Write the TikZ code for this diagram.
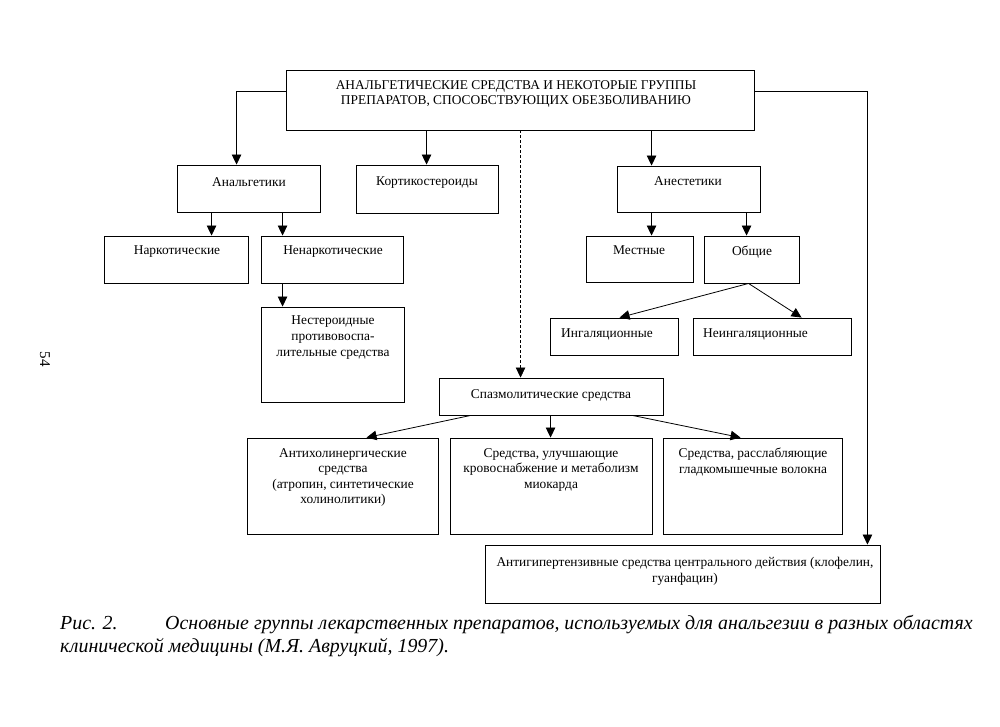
\documentclass[tikz,border=0pt]{standalone}
\usepackage{fontspec}
\setmainfont{Liberation Serif}
\newfontfamily\capfont{Liberation Serif}
\usetikzlibrary{arrows.meta,fit}
\begin{document}
\begin{tikzpicture}[x=1pt,y=-1pt,
  box/.style={draw, line width=0.9pt, inner sep=0pt, fit={#1}},
  txt/.style={inner sep=0pt, align=center, font=\fontsize{13.4}{15.6}\selectfont},
  arr/.style={-{Triangle[width=9.5pt,length=10pt]}, line width=0.8pt},
  dotline/.style={line width=0.6pt, dash pattern=on 3pt off 2pt, -{Triangle[width=9.5pt,length=10pt]}},
  captext/.style={inner sep=0pt, anchor=base west, font=\capfont\itshape\fontsize{19.9}{23}\selectfont}]
\fill[white] (0,0) rectangle (1000,726);
\useasboundingbox (0,0) rectangle (1000,726);

% boxes
\node[box={(286,70) (754,130)}] (top) {};
\node[box={(177,165) (320,212)}] (anal) {};
\node[box={(356,165) (498,213)}] (kort) {};
\node[box={(617,166) (760,212)}] (anest) {};
\node[box={(104,236) (248,283)}] (nark) {};
\node[box={(261,236) (403,283)}] (nenark) {};
\node[box={(586,236) (693,282)}] (mest) {};
\node[box={(704,236) (799,283)}] (obsh) {};
\node[box={(261,307) (404,402)}] (nester) {};
\node[box={(550,318) (678,355)}] (ingal) {};
\node[box={(693,318) (851,355)}] (neingal) {};
\node[box={(439,378) (663,415)}] (spasm) {};
\node[box={(247,438) (438,534)}] (anticho) {};
\node[box={(450,438) (652,534)}] (uluch) {};
\node[box={(663,438) (842,534)}] (rassl) {};
\node[box={(485,545) (880,603)}] (antigip) {};

% texts
\node[txt, anchor=north] (ttop) at (516,80) {АНАЛЬГЕТИЧЕСКИЕ СРЕДСТВА И НЕКОТОРЫЕ ГРУППЫ\\ПРЕПАРАТОВ, СПОСОБСТВУЮЩИХ ОБЕЗБОЛИВАНИЮ};
\node[txt, anchor=north] (tanal) at (249,177) {Анальгетики};
\node[txt, anchor=north] (tkort) at (427,177) {Кортикостероиды};
\node[txt, anchor=north] (tanest) at (688,176) {Анестетики};
\node[txt, anchor=north] (tnark) at (177,246) {Наркотические};
\node[txt, anchor=north] (tnenark) at (333,246) {Ненаркотические};
\node[txt, anchor=north] (tmest) at (639,246) {Местные};
\node[txt, anchor=north] (tobsh) at (752,246) {Общие};
\node[txt, anchor=north] (tnester) at (333,316) {Нестероидные\\противовоспа-\\лительные средства};
\node[txt, anchor=north west] (tingal) at (561,329) {Ингаляционные};
\node[txt, anchor=north west] (tneingal) at (703,329) {Неингаляционные};
\node[txt, anchor=north] (tspasm) at (551,389) {Спазмолитические средства};
\node[txt, anchor=north] (tanticho) at (343,448) {Антихолинергические\\средства\\(атропин, синтетические\\холинолитики)};
\node[txt, anchor=north] (tuluch) at (551,448) {Средства, улучшающие\\кровоснабжение и метаболизм\\миокарда};
\node[txt, anchor=north] (trassl) at (753,448) {Средства, расслабляющие\\гладкомышечные волокна};
\node[txt, anchor=north] (tantigip) at (685,557) {Антигипертензивные средства центрального действия (клофелин,\\гуанфацин)};

% connectors
\draw[arr] ([yshift=-22pt]top.north west) -| ([xshift=60pt]anal.north west);
\draw[arr] ([yshift=-22pt]top.north east) -| ([xshift=-13pt]antigip.north east);
\draw[arr] ([xshift=141pt]top.south west) -- ([xshift=71pt]kort.north west);
\draw[dotline] ([xshift=235pt]top.south west) -- ([xshift=82pt]spasm.north west);
\draw[arr] ([xshift=366pt]top.south west) -- ([xshift=35pt]anest.north west);
\draw[arr] ([xshift=35pt]anal.south west) -- ([xshift=108pt]nark.north west);
\draw[arr] ([xshift=106pt]anal.south west) -- ([xshift=22pt]nenark.north west);
\draw[arr] ([xshift=22pt]nenark.south west) -- ([xshift=22pt]nester.north west);
\draw[arr] ([xshift=35pt]anest.south west) -- ([xshift=66pt]mest.north west);
\draw[arr] ([xshift=130pt]anest.south west) -- ([xshift=43pt]obsh.north west);
\coordinate (fan) at ([xshift=45pt]obsh.south west);
\draw[arr] (fan) -- ([xshift=70pt]ingal.north west);
\draw[arr] (fan) -- ([xshift=109pt]neingal.north west);
\draw[arr] ([xshift=32pt]spasm.south west) -- ([xshift=120pt]anticho.north west);
\draw[arr] ([xshift=112pt]spasm.south west) -- ([xshift=101pt]uluch.north west);
\draw[arr] ([xshift=194pt]spasm.south west) -- ([xshift=78pt]rassl.north west);

% page number
\node[rotate=-90, inner sep=0pt, font=\fontsize{15}{17}\selectfont] (pg) at (45,359) {54};

% caption
\node[captext] (c1) at (60,629) {Рис. 2.};
\node[captext] (c2) at (165,629) {Основные группы лекарственных препаратов, используемых для анальгезии в разных областях};
\node[captext] (c3) at (60,652) {клинической медицины (М.Я. Авруцкий, 1997).};
\end{tikzpicture}
\end{document}
